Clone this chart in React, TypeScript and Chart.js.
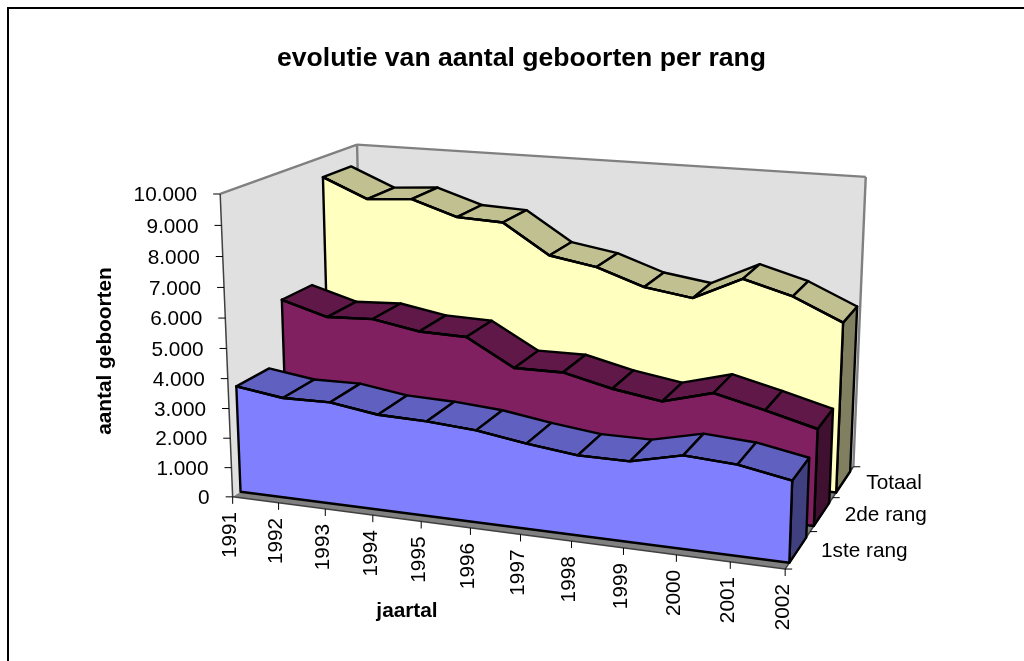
import React, { useEffect, useRef } from "react";
import { Chart, registerables } from "chart.js";

Chart.register(...registerables);

const years = ["1991","1992","1993","1994","1995","1996","1997","1998","1999","2000","2001","2002"];
const depthLabels = ["1ste rang", "2de rang", "Totaal"];
const eersteRang = [3593,3375,3403,3173,3133,3022,2777,2591,2592,2974,2875,2575];
const tweedeRang = [5701,5251,5331,5061,5025,4142,4159,3785,3537,3986,3595,3173];
const totaal = [9299,8639,8752,8244,8178,7171,6906,6362,6131,6917,6469,5748];

const FONT = "'Liberation Sans'";
const SLOT_FILL = 0.34;
const LINE = 2.4;
const STYLES = [
  { face: "#8080FF", top: "#6060C0", side: "#404080" },
  { face: "#802060", top: "#601848", side: "#401030" },
  { face: "#FFFFC0", top: "#C0C090", side: "#808060" },
];

// u, v, w in the unit box -> picture position, used to fit the perspective
const ANCHORS: number[][] = [
  [0,0,0,233,497.6],[0,1,0,220,195],[1,0,0,786,569],[1,0,1,853,467],[1,1,1,866,177],[0,1,1,357,144.5],
  [1/11,0,0,278.7,503.3],[3/11,0,0,372.7,515.3],[10/11,0,0,729.3,561.7],[0,0.5,0,226.5,346.3],
  [1,0,1/3,810,532],[1,0,2/3,833,497],
];

function solve(A: number[][], b: number[]) {
  const n = b.length;
  const M = A.map((r, i) => [...r, b[i]]);
  for (let c = 0; c < n; c++) {
    let p = c;
    for (let r = c + 1; r < n; r++) if (Math.abs(M[r][c]) > Math.abs(M[p][c])) p = r;
    [M[c], M[p]] = [M[p], M[c]];
    for (let r = 0; r < n; r++) {
      if (r === c) continue;
      const f = M[r][c] / M[c][c];
      for (let k = c; k <= n; k++) M[r][k] -= f * M[c][k];
    }
  }
  return M.map((r, i) => r[n] / r[i]);
}

function fitProjection() {
  const rows: number[][] = [];
  const rhs: number[] = [];
  for (const [u, v, w, x, y] of ANCHORS) {
    rows.push([u, v, w, 1, 0, 0, 0, 0, -x * u, -x * v, -x * w]);
    rhs.push(x);
    rows.push([0, 0, 0, 0, u, v, w, 1, -y * u, -y * v, -y * w]);
    rhs.push(y);
  }
  const n = 11;
  const ATA = Array.from({ length: n }, () => new Array(n).fill(0));
  const ATb = new Array(n).fill(0);
  rows.forEach((r, i) => {
    for (let a = 0; a < n; a++) {
      ATb[a] += r[a] * rhs[i];
      for (let b = 0; b < n; b++) ATA[a][b] += r[a] * r[b];
    }
  });
  return solve(ATA, ATb);
}
const H = fitProjection();
const project = (u: number, v: number, w: number) => {
  const d = H[8] * u + H[9] * v + H[10] * w + 1;
  return {
    x: (H[0] * u + H[1] * v + H[2] * w + H[3]) / d,
    y: (H[4] * u + H[5] * v + H[6] * w + H[7]) / d,
  };
};

function poly(ctx: CanvasRenderingContext2D, pts: { x: number; y: number }[], fill: string | null, stroke: string | null, lw = LINE) {
  ctx.beginPath();
  pts.forEach((p, i) => (i ? ctx.lineTo(p.x, p.y) : ctx.moveTo(p.x, p.y)));
  ctx.closePath();
  if (fill) { ctx.fillStyle = fill; ctx.fill(); }
  if (stroke) { ctx.strokeStyle = stroke; ctx.lineWidth = lw; ctx.lineJoin = "round"; ctx.stroke(); }
}
function seg(ctx: CanvasRenderingContext2D, a: { x: number; y: number }, b: { x: number; y: number }, color: string, lw = 1) {
  ctx.beginPath(); ctx.moveTo(a.x, a.y); ctx.lineTo(b.x, b.y);
  ctx.strokeStyle = color; ctx.lineWidth = lw; ctx.stroke();
}

const uOf = (c: any, px: number) => (px - c.scales.x.left) / c.scales.x.width;
const vOf = (c: any, py: number) => (c.scales.y.bottom - py) / c.scales.y.height;
const wOf = (c: any, val: number) => {
  const s = c.scales.z;
  return (s.getPixelForValue(val) - s.left) / s.width;
};
const wFront = (c: any, i: number) => wOf(c, i - SLOT_FILL);
const wBack = (c: any, i: number) => wOf(c, i + SLOT_FILL);

const plugin = {
  id: "box3d",
  beforeDraw(c: any) {
    const ctx = c.ctx;
    ctx.save();
    ctx.fillStyle = "#000";
    ctx.fillRect(7, 7, 1017, 2);
    ctx.fillRect(7, 7, 2, 654);
    const P = project;
    poly(ctx, [P(0,0,0), P(1,0,0), P(1,0,1), P(0,0,1)], "#808080", null);
    poly(ctx, [P(0,0,0), P(0,1,0), P(0,1,1), P(0,0,1)], "#E0E0E0", null);
    poly(ctx, [P(0,0,1), P(0,1,1), P(1,1,1), P(1,0,1)], "#E0E0E0", null);
    seg(ctx, P(0,1,0), P(0,1,1), "#808080", 2.4);
    seg(ctx, P(0,1,1), P(1,1,1), "#808080", 2.4);
    seg(ctx, P(1,1,1), P(1,0,1), "#808080", 2.4);
    seg(ctx, P(0,1,1), P(0,0,1), "#808080", 2.4);
    seg(ctx, P(0,0,0), P(0,1,0), "#404040", 1.5);
    seg(ctx, P(0,0,0), P(1,0,0), "#404040", 1.5);
    seg(ctx, P(1,0,0), P(1,0,1), "#404040", 1.5);

    ctx.fillStyle = "#000";
    ctx.textBaseline = "middle";
    ctx.font = `20.8px ${FONT}`;
    // value axis
    ctx.textAlign = "right";
    for (const t of c.scales.y.ticks) {
      const p = P(0, vOf(c, c.scales.y.getPixelForValue(t.value)), 0);
      seg(ctx, p, { x: p.x - 7, y: p.y }, "#000", 1);
      ctx.fillStyle = "#000";
      ctx.fillText(t.label, p.x - 23, p.y + 1.5);
    }
    // year axis
    years.forEach((yr, i) => {
      const p = P(uOf(c, c.scales.x.getPixelForValue(i)), 0, 0);
      seg(ctx, p, { x: p.x, y: p.y + 7 }, "#000", 1);
      ctx.save();
      ctx.translate(p.x - 2, p.y + 15);
      ctx.rotate(-Math.PI / 2);
      ctx.textAlign = "right";
      ctx.fillStyle = "#000";
      ctx.fillText(yr, 0, 0);
      ctx.restore();
    });
    // depth axis
    depthLabels.forEach((lab, i) => {
      const p = P(1, 0, wOf(c, i + 0.5));
      seg(ctx, p, { x: p.x + 7, y: p.y }, "#000", 1);
      const m = P(1, 0, wOf(c, i));
      ctx.textAlign = "left";
      ctx.fillStyle = "#000";
      ctx.fillText(lab, m.x + 23, m.y + 1);
    });
    const z0 = P(1, 0, 0);
    seg(ctx, z0, { x: z0.x + 7, y: z0.y }, "#000", 1);
    // axis titles
    ctx.font = `bold 20.8px ${FONT}`;
    ctx.textAlign = "center";
    ctx.fillText("jaartal", 407, 611);
    ctx.save();
    ctx.translate(105, 351);
    ctx.rotate(-Math.PI / 2);
    ctx.fillText("aantal geboorten", 0, 0);
    ctx.restore();
    ctx.restore();
  },
  afterDatasetsUpdate(c: any) {
    c.getSortedVisibleDatasetMetas().forEach((meta: any) => {
      const wf = wFront(c, meta.index);
      meta.data.forEach((el: any) => {
        el.$u = uOf(c, el.x);
        el.$v = vOf(c, el.y);
        const p = project(el.$u, el.$v, wf);
        el.x = p.x;
        el.y = p.y;
      });
    });
  },
  beforeDatasetDraw(c: any, args: any) {
    const ctx = c.ctx;
    const i = args.index;
    const st = STYLES[i];
    const els = args.meta.data;
    const wf = wFront(c, i);
    const wb = wBack(c, i);
    const n = els.length;
    ctx.save();
    const last = els[n - 1];
    poly(ctx, [project(1, last.$v, wf), project(1, last.$v, wb), project(1, 0, wb), project(1, 0, wf)], st.side, "#000");
    for (let k = 0; k < n - 1; k++) {
      const a = els[k], b = els[k + 1];
      poly(ctx, [project(a.$u, a.$v, wf), project(a.$u, a.$v, wb), project(b.$u, b.$v, wb), project(b.$u, b.$v, wf)], st.top, "#000");
    }
    const face = els.map((e: any) => ({ x: e.x, y: e.y }));
    face.push(project(1, 0, wf), project(0, 0, wf));
    poly(ctx, face, st.face, "#000");
    ctx.restore();
  },
};

export default function App() {
  const ref = useRef<HTMLCanvasElement>(null);
  useEffect(() => {
    document.body.style.margin = "0";
    const series = [eersteRang, tweedeRang, totaal];
    const chart = new Chart(ref.current as HTMLCanvasElement, {
      type: "line",
      data: {
        labels: years,
        datasets: series.map((d, i) => ({
          label: depthLabels[i], data: d, fill: false, clip: false,
          borderColor: "#000", borderWidth: LINE, pointRadius: 0, tension: 0, borderCapStyle: "round",
        })),
      },
      options: {
        animation: false, responsive: false,
        layout: { padding: { left: 19 } },
        plugins: {
          legend: { display: false }, tooltip: { enabled: false },
          title: { display: true, text: "evolutie van aantal geboorten per rang", color: "#000",
            font: { family: "Liberation Sans", size: 26.6, weight: "bold" }, padding: { top: 43, bottom: 10 } },
        },
        scales: {
          x: { display: false, offset: false },
          y: { display: false, min: 0, max: 10000,
            ticks: { stepSize: 1000, callback: (v: number) => (v === 0 ? "0" : `${v / 1000}.000`) } },
          z: { type: "category", axis: "x", labels: depthLabels, display: false, offset: true },
        },
      },
      plugins: [plugin],
    } as any);
    return () => chart.destroy();
  }, []);
  return <canvas ref={ref} width={1024} height={661} style={{ display: "block" }} />;
}
